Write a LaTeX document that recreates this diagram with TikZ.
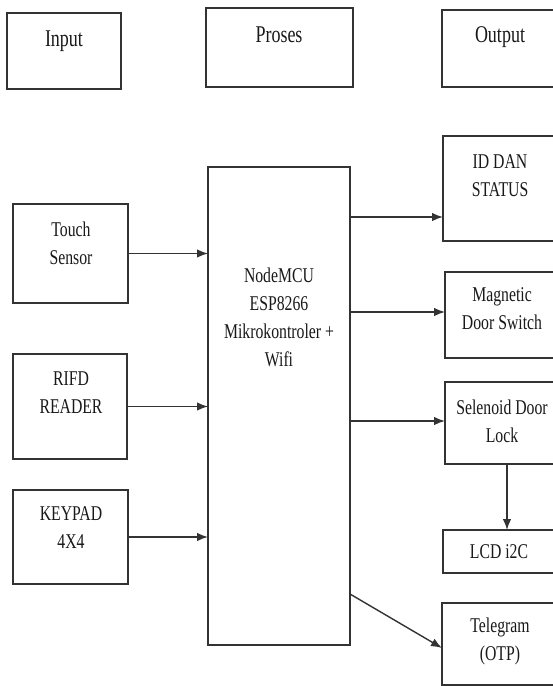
\documentclass[tikz,border=0pt]{standalone}
\usepackage{fontspec}
\setmainfont{Liberation Serif}[FakeStretch=0.75]
\usetikzlibrary{arrows.meta}
\begin{document}
\begin{tikzpicture}[x=1pt,y=-1pt,
  box/.style={draw=black!80, line width=1.4pt, inner sep=0pt, outer sep=0pt},
  lbl/.style={text=black!90, align=center, inner sep=0pt, font=\fontsize{21}{28}\selectfont},
  head/.style={text=black!90, inner sep=0pt, font=\fontsize{24}{28}\selectfont},
  arr/.style={draw=black!80, line width=1.4pt, -{Latex[length=11pt,width=8.5pt]}}]
\useasboundingbox (0,0) rectangle (553,686);
\fill[white] (0,0) rectangle (553,686);
\clip (0,0) rectangle (553,686);
% top headers
\node[box, minimum width=114, minimum height=76] (inbox) at (64,51) {};
\node[box, minimum width=147, minimum height=79] (prbox) at (279.5,47.5) {};
\node[box, minimum width=118, minimum height=77] (outbox) at (501,48.5) {};
\node[head] (tin) at (64,41) {Input};
\node[head] (tpr) at (279,35) {Proses};
\node[head] (tout) at (500,37) {Output};
% input boxes
\node[box, minimum width=115, minimum height=99] (touch) at (70.5,253.5) {};
\node[box, minimum width=114, minimum height=105] (rifd) at (70,406.5) {};
\node[box, minimum width=115, minimum height=94] (keypad) at (70.5,537) {};
\node[lbl] (ttouch) at (71,243) {Touch\\Sensor};
\node[lbl] (trifd) at (71,393) {RIFD\\READER};
\node[lbl] (tkey) at (71,528) {KEYPAD\\4X4};
% main
\node[box, minimum width=142, minimum height=478] (main) at (279,406) {};
\node[lbl] (tmain) at (279,317) {NodeMCU\\ESP8266\\Mikrokontroler +\\Wifi};
% outputs
\node[box, minimum width=117, minimum height=105] (id) at (501.5,188.5) {};
\node[box, minimum width=115, minimum height=86] (mag) at (502.5,315) {};
\node[box, minimum width=115, minimum height=82] (sel) at (502.5,423) {};
\node[box, minimum width=117, minimum height=43] (lcd) at (501.5,551.5) {};
\node[box, minimum width=118, minimum height=82] (tel) at (501,644) {};
\node[lbl] (tid) at (500,176) {ID DAN\\STATUS};
\node[lbl] (tmag) at (502,309) {Magnetic\\Door Switch};
\node[lbl] (tsel) at (502,421) {Selenoid Door\\Lock};
\node[lbl] (tlcd) at (499,552) {LCD i2C};
\node[lbl] (ttel) at (500,641) {Telegram\\(OTP)};
% connectors
\draw[arr] (touch.east) -- (main.west |- touch.east);
\draw[arr] (rifd.east) -- (main.west |- rifd.east);
\draw[arr] (keypad.east) -- (main.west |- keypad.east);
\coordinate (o1) at (0,217);
\coordinate (o2) at (0,312);
\coordinate (o3) at (0,421);
\coordinate (o4) at (0,594);
\coordinate (o5) at (0,648);
\coordinate (v) at (507,0);
\draw[arr] (main.east |- o1) -- (id.west |- o1);
\draw[arr] (main.east |- o2) -- (mag.west |- o2);
\draw[arr] (main.east |- o3) -- (sel.west |- o3);
\draw[arr] (main.east |- o4) -- (tel.west |- o5);
\draw[arr] (sel.south -| v) -- (lcd.north -| v);
\end{tikzpicture}
\end{document}
